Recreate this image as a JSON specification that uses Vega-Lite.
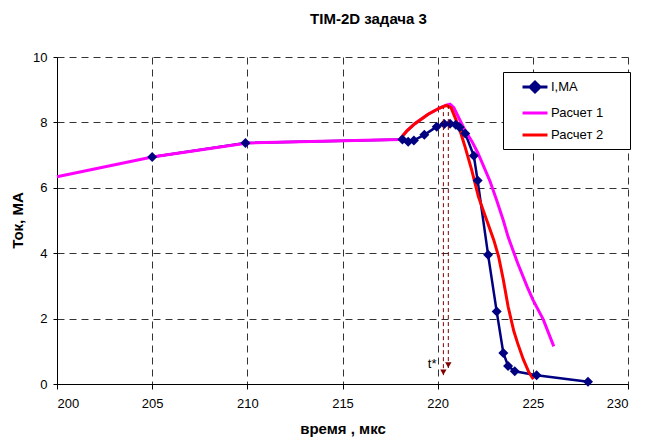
{
  "$schema": "https://vega.github.io/schema/vega-lite/v6.json",
  "width": 571,
  "height": 327,
  "autosize": {"type": "none"},
  "padding": {"left": 57, "top": 57, "right": 17, "bottom": 53},
  "background": "white",
  "config": {"view": {"stroke": null}, "font": "Liberation Sans"},
  "title": {"text": "TIM-2D задача 3", "fontSize": 15, "fontWeight": "bold", "font": "Liberation Sans", "color": "black", "anchor": "middle", "dx": 26, "offset": 17, "baseline": "middle"},
  "datasets": {
    "main": [
      {"s": "I,MA", "x": 205.0, "y": 6.94},
      {"s": "I,MA", "x": 209.9, "y": 7.37},
      {"s": "I,MA", "x": 218.15, "y": 7.48},
      {"s": "I,MA", "x": 218.45, "y": 7.41},
      {"s": "I,MA", "x": 218.75, "y": 7.45},
      {"s": "I,MA", "x": 219.3, "y": 7.62},
      {"s": "I,MA", "x": 219.95, "y": 7.87},
      {"s": "I,MA", "x": 220.35, "y": 7.95},
      {"s": "I,MA", "x": 220.65, "y": 7.96},
      {"s": "I,MA", "x": 220.95, "y": 7.93},
      {"s": "I,MA", "x": 221.15, "y": 7.85},
      {"s": "I,MA", "x": 221.45, "y": 7.66},
      {"s": "I,MA", "x": 221.9, "y": 6.98},
      {"s": "I,MA", "x": 222.1, "y": 6.22},
      {"s": "I,MA", "x": 222.65, "y": 3.95},
      {"s": "I,MA", "x": 223.1, "y": 2.22},
      {"s": "I,MA", "x": 223.45, "y": 0.95},
      {"s": "I,MA", "x": 223.7, "y": 0.55},
      {"s": "I,MA", "x": 224.05, "y": 0.39},
      {"s": "I,MA", "x": 225.2, "y": 0.27},
      {"s": "I,MA", "x": 227.9, "y": 0.07},
      {"s": "Расчет 1", "x": 200.0, "y": 6.34},
      {"s": "Расчет 1", "x": 205.0, "y": 6.94},
      {"s": "Расчет 1", "x": 210.0, "y": 7.37},
      {"s": "Расчет 1", "x": 218.0, "y": 7.48},
      {"s": "Расчет 1", "x": 218.4, "y": 7.75},
      {"s": "Расчет 1", "x": 218.8, "y": 7.96},
      {"s": "Расчет 1", "x": 219.5, "y": 8.25},
      {"s": "Расчет 1", "x": 220.1, "y": 8.44},
      {"s": "Расчет 1", "x": 220.45, "y": 8.53},
      {"s": "Расчет 1", "x": 220.65, "y": 8.56},
      {"s": "Расчет 1", "x": 220.85, "y": 8.45},
      {"s": "Расчет 1", "x": 221.1, "y": 8.15},
      {"s": "Расчет 1", "x": 221.4, "y": 7.8},
      {"s": "Расчет 1", "x": 221.8, "y": 7.42},
      {"s": "Расчет 1", "x": 222.1, "y": 7.08},
      {"s": "Расчет 1", "x": 222.35, "y": 6.75},
      {"s": "Расчет 1", "x": 222.75, "y": 6.2},
      {"s": "Расчет 1", "x": 223.1, "y": 5.62},
      {"s": "Расчет 1", "x": 223.45, "y": 5.0},
      {"s": "Расчет 1", "x": 223.7, "y": 4.5},
      {"s": "Расчет 1", "x": 224.2, "y": 3.7},
      {"s": "Расчет 1", "x": 224.7, "y": 2.98},
      {"s": "Расчет 1", "x": 225.0, "y": 2.58},
      {"s": "Расчет 1", "x": 225.55, "y": 1.97},
      {"s": "Расчет 1", "x": 226.1, "y": 1.15},
      {"s": "Расчет 2", "x": 218.0, "y": 7.48},
      {"s": "Расчет 2", "x": 218.4, "y": 7.75},
      {"s": "Расчет 2", "x": 218.8, "y": 7.96},
      {"s": "Расчет 2", "x": 219.5, "y": 8.25},
      {"s": "Расчет 2", "x": 220.1, "y": 8.44},
      {"s": "Расчет 2", "x": 220.45, "y": 8.52},
      {"s": "Расчет 2", "x": 220.7, "y": 8.45},
      {"s": "Расчет 2", "x": 220.95, "y": 8.1},
      {"s": "Расчет 2", "x": 221.2, "y": 7.7},
      {"s": "Расчет 2", "x": 221.44, "y": 7.25},
      {"s": "Расчет 2", "x": 221.79, "y": 6.54},
      {"s": "Расчет 2", "x": 222.14, "y": 5.73},
      {"s": "Расчет 2", "x": 222.55, "y": 5.05},
      {"s": "Расчет 2", "x": 222.95, "y": 4.4},
      {"s": "Расчет 2", "x": 223.2, "y": 3.9},
      {"s": "Расчет 2", "x": 223.45, "y": 3.19},
      {"s": "Расчет 2", "x": 223.7, "y": 2.37},
      {"s": "Расчет 2", "x": 224.0, "y": 1.62},
      {"s": "Расчет 2", "x": 224.2, "y": 1.25},
      {"s": "Расчет 2", "x": 224.5, "y": 0.75},
      {"s": "Расчет 2", "x": 224.8, "y": 0.35},
      {"s": "Расчет 2", "x": 225.03, "y": 0.15}
    ],
    "arrows": [
      {"x": 220.3, "y": 0.27, "y2": 8.44},
      {"x": 220.56, "y": 0.49, "y2": 8.52}
    ],
    "labels": [
      {"label": "t*", "x": 219.71, "y": 0.61}
    ]
  },
  "data": {"name": "main"},
  "encoding": {
    "x": {
      "field": "x", "type": "quantitative",
      "scale": {"domain": [200, 230], "nice": false, "zero": false},
      "axis": {
        "values": [200, 205, 210, 215, 220, 225, 230],
        "grid": true, "gridDash": [7, 5], "gridColor": "#333333", "gridWidth": 1,
        "domainColor": "black", "domainWidth": 1, "tickColor": "black", "tickSize": 5,
        "labelFontSize": 13, "labelFont": "Liberation Sans", "labelColor": "black", "labelPadding": 8,
        "title": "время , мкс", "titleFontSize": 15, "titleFontWeight": "bold", "titleFont": "Liberation Sans", "titleColor": "black",
        "titleY": 44, "titleBaseline": "middle"
      }
    },
    "y": {
      "field": "y", "type": "quantitative",
      "scale": {"domain": [0, 10], "nice": false},
      "axis": {
        "values": [0, 2, 4, 6, 8, 10],
        "grid": true, "gridDash": [7, 5], "gridColor": "#333333", "gridWidth": 1,
        "domainColor": "black", "domainWidth": 1, "tickColor": "black", "tickSize": 4,
        "labelFontSize": 13, "labelFont": "Liberation Sans", "labelColor": "black", "labelPadding": 6,
        "title": "Ток, МА", "titleFontSize": 15, "titleFontWeight": "bold", "titleFont": "Liberation Sans", "titleColor": "black",
        "titleX": -40, "titleY": 163, "titleBaseline": "middle", "titleAngle": 270
      }
    }
  },
  "layer": [
    {
      "transform": [{"filter": "datum.s === 'I,MA'"}],
      "mark": {"type": "line", "strokeWidth": 2.5},
      "encoding": {
        "color": {
          "field": "s", "type": "nominal",
          "scale": {"domain": ["I,MA", "Расчет 1", "Расчет 2"], "range": ["#000080", "#FF00FF", "#FF0000"]},
          "legend": {
            "orient": "none", "legendX": 446, "legendY": 15, "title": null,
            "fillColor": "white", "strokeColor": "black", "cornerRadius": 0,
            "padding": 7, "rowPadding": 7,
            "symbolType": "M-2,0H2", "symbolSize": 156, "symbolStrokeWidth": 3,
            "symbolOffset": 17, "labelOffset": 8,
            "labelFontSize": 13, "labelFont": "Liberation Sans", "labelColor": "black",
            "encode": {
              "symbols": {
                "update": {
                  "shape": {"signal": "datum.value === 'I,MA' ? 'M-2,0H2M-0.8,0L0,-0.8L0.8,0L0,0.8ZM13,0' : 'M-2,0H2M13,0'"},
                  "fill": {"signal": "datum.value === 'I,MA' ? '#000080' : 'transparent'"},
                  "opacity": {"value": 1}
                }
              }
            }
          }
        }
      }
    },
    {
      "transform": [{"filter": "datum.s === 'Расчет 1'"}],
      "mark": {"type": "line", "strokeWidth": 3},
      "encoding": {"color": {"field": "s", "type": "nominal"}}
    },
    {
      "transform": [{"filter": "datum.s === 'Расчет 2'"}],
      "mark": {"type": "line", "strokeWidth": 3},
      "encoding": {"color": {"field": "s", "type": "nominal"}}
    },
    {
      "transform": [{"filter": "datum.s === 'I,MA'"}],
      "mark": {"type": "point", "shape": "diamond", "filled": true, "size": 100, "color": "#000080", "opacity": 1}
    },
    {
      "data": {"name": "arrows"},
      "mark": {"type": "rule", "color": "#800000", "strokeWidth": 1, "strokeDash": [4, 3]},
      "encoding": {"y2": {"field": "y2"}}
    },
    {
      "data": {"name": "arrows"},
      "mark": {"type": "point", "shape": "triangle-down", "filled": true, "size": 40, "color": "#800000", "opacity": 1, "yOffset": -3}
    },
    {
      "data": {"name": "labels"},
      "mark": {"type": "text", "fontSize": 13, "font": "Liberation Sans", "color": "black"},
      "encoding": {"text": {"field": "label"}}
    }
  ]
}
